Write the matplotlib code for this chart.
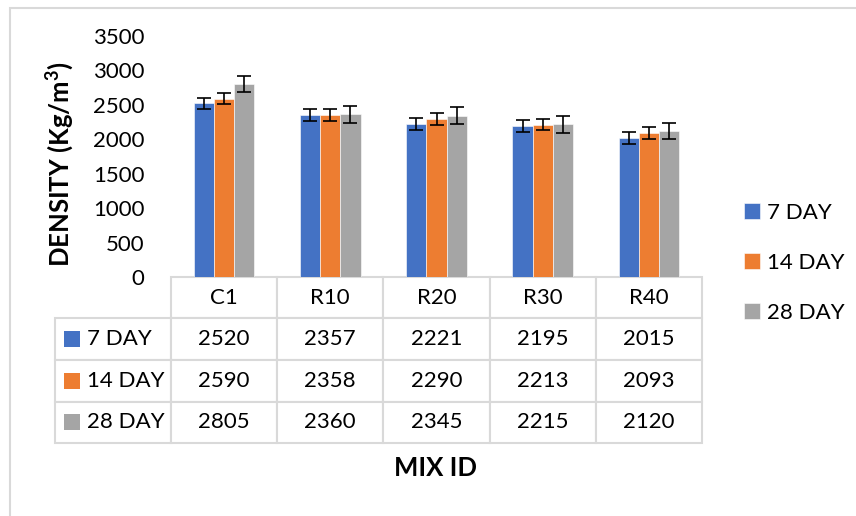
import numpy as np
import matplotlib.pyplot as plt
from matplotlib.patches import Rectangle

plt.rcParams['font.family'] = ['Lato', 'DejaVu Sans']

mixes = ['C1', 'R10', 'R20', 'R30', 'R40']
series = ['7 DAY', '14 DAY', '28 DAY']
day7 = [2520, 2357, 2221, 2195, 2015]
day14 = [2590, 2358, 2290, 2213, 2093]
day28 = [2805, 2360, 2345, 2215, 2120]
err7 = [85, 87, 87, 87, 87]
err14 = [80, 87, 87, 85, 85]
err28 = [118, 118, 121, 121, 119]
colors = ['#4472C4', '#ED7D31', '#A5A5A5']

values = [day7, day14, day28]
errors = [err7, err14, err28]

W, H = 856, 516
fig = plt.figure(figsize=(W / 100, H / 100), dpi=100)

# outer chart frame (Excel style)
fig.patches.append(Rectangle((10 / W, -0.1), 2, 1.1 - 8 / H, transform=fig.transFigure,
                             fill=False, edgecolor='#d9d9d9', linewidth=1.5))

ax = fig.add_axes([171 / W, 1 - 277 / H, 531 / W, 241 / H])

x = np.arange(len(mixes))
bw = 0.19
for i, (vals, errs, c) in enumerate(zip(values, errors, colors)):
    ax.bar(x + (i - 1) * bw, vals, bw, color=c, edgecolor='white', linewidth=0.4,
           yerr=errs, capsize=4.8, error_kw=dict(ecolor='black', elinewidth=1.2, capthick=1.2),
           label=series[i])

ax.set_xlim(-0.5, len(mixes) - 0.5)
ax.set_ylim(0, 3500)
ax.set_yticks(np.arange(0, 3501, 500))
ax.set_xticks([])
ax.tick_params(axis='y', length=0, pad=19, labelsize=16)
for s in ax.spines.values():
    s.set_visible(False)

# data table below the plot
cell_text = [[''] + mixes]
for name, vals in zip(series, values):
    cell_text.append([name] + [str(v) for v in vals])
col_w = [116] + [531 / 5] * 5
tbl = ax.table(cellText=cell_text, colWidths=col_w, cellLoc='center',
               bbox=[-116 / 531, -166 / 241, 647 / 531, 166 / 241])
tbl.auto_set_font_size(False)
for (r, c), cell in tbl.get_celld().items():
    cell.set_edgecolor('#d9d9d9')
    cell.set_linewidth(1.5)
    cell.set_fontsize(16)
    if r == 0 and c == 0:
        cell.visible_edges = ''
    if c == 0 and r > 0:
        cell.get_text().set_ha('left')
        cell.PAD = 32 / 116

for i, c in enumerate(colors):
    yc = 1 - (277 + 41.5 * (i + 1.5) - 36) / 241
    ax.add_patch(Rectangle(((64 - 171) / 531, yc - 8 / 241), 16 / 531, 16 / 241,
                           transform=ax.transAxes, facecolor=c, edgecolor='none',
                           clip_on=False))

fig.text(436 / W, 1 - 468 / H, 'MIX ID', ha='center', va='center',
         fontsize=18.5, fontweight='bold')
fig.text(60 / W, 1 - 164 / H, 'DENSITY (Kg/m$^\\mathregular{3}$)', ha='center', va='center',
         rotation=90, fontsize=18.5, fontweight='bold')

fig.legend(loc='center left', bbox_to_anchor=(744 / W, 1 - 263 / H), frameon=False,
           fontsize=16, handlelength=0.72, handleheight=0.72, handletextpad=0.3,
           labelspacing=1.35, borderpad=0, borderaxespad=0)

fig.savefig('out.png', dpi=100)
